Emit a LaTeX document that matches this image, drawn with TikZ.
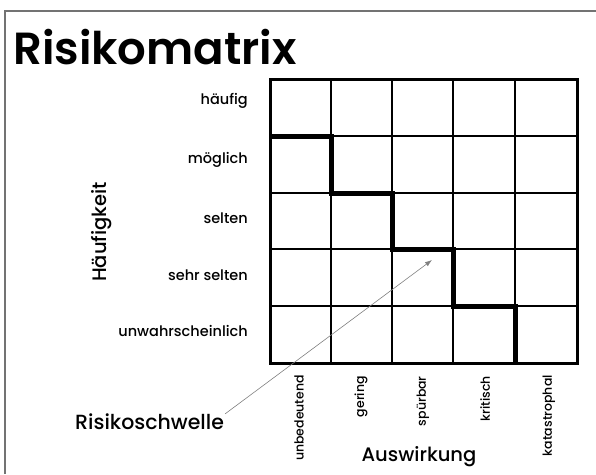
\documentclass[tikz,border=0pt]{standalone}
\usepackage{fontspec}
\setmainfont{Poppins}
\newfontfamily\semibold{Poppins SemiBold}
\newfontfamily\medium{Poppins Medium}
\usetikzlibrary{arrows.meta}
\begin{document}
\begin{tikzpicture}[x=1pt,y=-1pt,
  rowlabel/.style={anchor=east,font=\medium\fontsize{14.5}{14.5}\selectfont,inner sep=0pt},
  collabel/.style={anchor=east,rotate=90,font=\medium\fontsize{12.5}{12.5}\selectfont,inner sep=0pt},
  axislabel/.style={font=\medium\fontsize{19.5}{19.5}\selectfont,inner sep=0pt},
  gridline/.style={line width=2pt},
  threshold/.style={line width=5pt,line cap=rect},
  pointer/.style={draw=gray,line width=0.6pt,-{Latex[length=7pt,width=5pt]}}]
\useasboundingbox (0,0) rectangle (596,474);
% outer frame (top and left edges only)
\draw[black!55,line width=2pt] (4.5,474) -- (4.5,10.5) -- (596,10.5);
% title
\node[anchor=base west,inner sep=0pt,font=\semibold\fontsize{45}{45}\selectfont] (title) at (13,64) {Risikomatrix};
% matrix grid: 5 columns x 5 rows
\foreach \x in {331,392,453,515} \draw[gridline] (\x,79) -- (\x,363);
\foreach \y in {136,193,249,306} \draw[gridline] (270,\y) -- (577,\y);
\draw[line width=3pt] (270,79) rectangle (577,363);
% risk threshold staircase
\draw[threshold] (271.5,136) -- (331,136) -- (331,193) -- (392,193) -- (392,249) -- (453,249) -- (453,306) -- (515,306) -- (515,361.5);
% frequency labels
\node[rowlabel] (r1) at (248,101) {häufig};
\node[rowlabel] (r2) at (248,160) {möglich};
\node[rowlabel] (r3) at (248,218) {selten};
\node[rowlabel] (r4) at (248,275) {sehr selten};
\node[rowlabel] (r5) at (248,331) {unwahrscheinlich};
\node[axislabel,rotate=90] (freq) at (102,232) {Häufigkeit};
% impact labels
\node[collabel] (c1) at (299,375) {unbedeutend};
\node[collabel] (c2) at (361,376) {gering};
\node[collabel] (c3) at (423,376) {spürbar};
\node[collabel] (c4) at (485,376) {kritisch};
\node[collabel] (c5) at (549,375) {katastrophal};
\node[axislabel] (impact) at (419,457) {Auswirkung};
% threshold callout
\node[axislabel,anchor=west,font=\medium\fontsize{20.5}{20.5}\selectfont] (thr) at (75,422) {Risikoschwelle};
\coordinate (thrtip) at (432,260);
\draw[pointer] (thr.north east) ++(1,0) -- (thrtip);
\end{tikzpicture}
\end{document}
